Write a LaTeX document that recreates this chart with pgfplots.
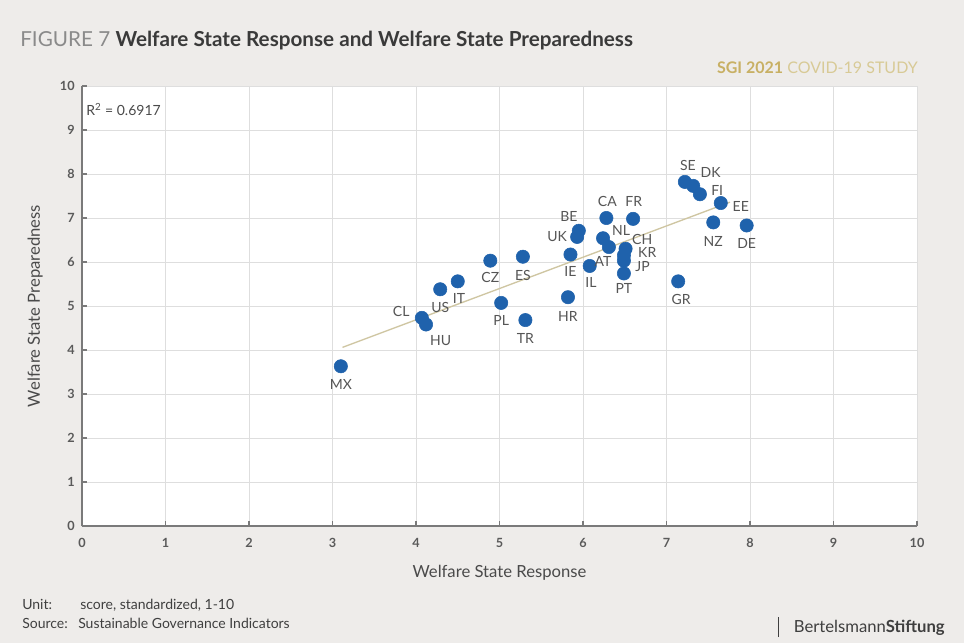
\documentclass[border=0pt]{standalone}
\usepackage{fontspec}
\setmainfont{Lato}
\usepackage{pgfplots}
\usepackage{pgfplotstable}
\pgfplotsset{compat=1.18}
\definecolor{paper}{HTML}{EEECEA}
\definecolor{dotblue}{HTML}{1F62AC}
\definecolor{regline}{HTML}{CFC6A2}
\definecolor{gridc}{HTML}{DEDEDE}
\definecolor{axisc}{HTML}{7A7A7A}
\definecolor{ticktext}{HTML}{5A5A5A}
\definecolor{labtext}{HTML}{4A4A4A}
\definecolor{ptlab}{HTML}{555555}
\definecolor{titlegray}{HTML}{8A8A8A}
\definecolor{titledark}{HTML}{3A3A3A}
\definecolor{gold}{HTML}{C8B064}
\definecolor{goldlight}{HTML}{D8CA96}
\definecolor{foot}{HTML}{3F3F3F}

\pgfplotstableread{
x    y    label dx     dy
3.10 3.63 MX    0      -13.5
4.07 4.73 CL    -15.5  4.5
4.12 4.58 HU    11     -11.75
4.29 5.38 US    0      -13.5
4.50 5.56 IT    1      -13
4.89 6.03 CZ    0      -12.5
5.28 6.12 ES    0      -14
5.02 5.07 PL    0      -13.5
5.31 4.68 TR    0      -14
5.82 5.20 HR    0      -14.5
5.85 6.17 IE    0      -13
6.08 5.91 IL    1      -12.5
5.93 6.57 UK    -15    0
5.95 6.71 BE    -7.5   10.5
6.28 7.00 CA    0.75   12.5
6.60 6.98 FR    0.5    13
6.24 6.54 NL    13.5   6
6.31 6.34 AT    -4.5   -11
6.51 6.30 CH    12.5   6.75
6.49 6.15 KR    17.5   2.25
6.49 6.03 JP    14     -4.5
6.49 5.74 PT    0      -11
7.14 5.56 GR    2.25   -13.25
7.22 7.82 SE    2.25   12.5
7.32 7.73 DK    13     10
7.40 7.54 FI    13     3
7.65 7.34 EE    15     -2.25
7.56 6.90 NZ    0      -14
7.96 6.83 DE    0      -13.5
}\pts

\begin{document}
\begin{tikzpicture}
\fill[paper] (0pt,0pt) rectangle (723pt,482.25pt);

% title
\node[anchor=base west, inner sep=0] at (15pt,447pt) {\fontsize{15.5}{18}\selectfont\textcolor{titlegray}{FIGURE 7}\hspace{4pt}\textcolor{titledark}{\bfseries Welfare State Response and Welfare State Preparedness}};
\node[anchor=base east, inner sep=0] at (688.5pt,427pt) {\fontsize{12}{14}\selectfont\textcolor{gold}{\bfseries SGI 2021} \textcolor{goldlight}{COVID-19 STUDY}};

\begin{axis}[
  at={(61.5pt,87.75pt)}, anchor=south west,
  width=626.25pt, height=330pt, scale only axis,
  xmin=0, xmax=10, ymin=0, ymax=10,
  xtick={0,1,...,10}, ytick={0,1,...,10},
  axis lines=left,
  x axis line style={-, draw=axisc, line width=0.9pt},
  y axis line style={-, draw=axisc, line width=0.9pt},
  axis background/.style={fill=white},
  grid=major,
  major grid style={draw=gridc, line width=0.5pt},
  tick align=inside,
  major tick length=4pt,
  tick style={draw=axisc, line width=0.8pt},
  /pgf/number format/assume math mode=true,
  ticklabel style={font=\fontsize{9.5}{11}\selectfont\bfseries, text=ticktext},
  xticklabel style={yshift=-6pt},
  yticklabel style={xshift=-2pt},
  xlabel={Welfare State Response},
  ylabel={Welfare State Preparedness},
  label style={font=\fontsize{12.5}{14}\selectfont, text=labtext},
  xlabel style={yshift=-6pt},
  ylabel style={yshift=6pt},
  clip=false,
]
\addplot[regline, line width=1pt] coordinates {(3.12,4.06) (7.76,7.36)};
\addplot[only marks, mark=*, mark size=5pt, color=dotblue,
  mark options={fill=dotblue, draw=dotblue},
  nodes near coords, point meta=explicit symbolic,
  visualization depends on={\thisrow{dx}\as\myDX},
  visualization depends on={\thisrow{dy}\as\myDY},
  every node near coord/.append style={anchor=center, xshift=\myDX pt, yshift=\myDY pt,
     font=\fontsize{10.5}{12}\selectfont, text=ptlab, inner sep=0pt},
] table[x=x, y=y, meta=label]{\pts};
\node[anchor=west, inner sep=0, font=\fontsize{10.5}{12}\selectfont, text=labtext] at (rel axis cs:0.005,0.946) {R\textsuperscript{2} = 0.6917};
\end{axis}

% footer
\node[anchor=base west, inner sep=0, font=\fontsize{10.5}{12}\selectfont, text=foot] at (16.5pt,25.5pt) {Unit:};
\node[anchor=base west, inner sep=0, font=\fontsize{10.5}{12}\selectfont, text=foot] at (60pt,25.5pt) {score, standardized, 1-10};
\node[anchor=base west, inner sep=0, font=\fontsize{10.5}{12}\selectfont, text=foot] at (16.5pt,11.25pt) {Source:};
\node[anchor=base west, inner sep=0, font=\fontsize{10.5}{12}\selectfont, text=foot] at (58.5pt,11.25pt) {Sustainable Governance Indicators};
\draw[foot, line width=0.7pt] (584pt,4.5pt) -- (584pt,19.5pt);
\node[anchor=base east, inner sep=0, font=\fontsize{12.5}{14}\selectfont, text=foot] at (708.75pt,8.25pt) {Bertelsmann\textbf{Stiftung}};

\pgfresetboundingbox
\useasboundingbox (0pt,0pt) rectangle (723pt,482.25pt);
\end{tikzpicture}
\end{document}
